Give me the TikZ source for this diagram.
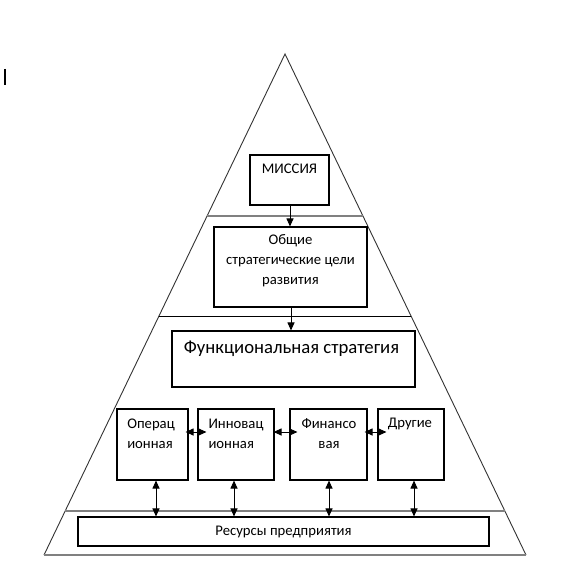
\documentclass[tikz,border=0pt]{standalone}
\usepackage{fontspec}
\setmainfont{Carlito}
\usetikzlibrary{arrows.meta,positioning,calc}

\begin{document}
\begin{tikzpicture}[
  x=1pt,y=-1pt,
  box/.style={draw,line width=1.1pt,inner sep=0pt},
  txt/.style={font=\fontsize{14.7}{20}\selectfont,align=center,inner sep=0pt},
  sep/.style={line width=1.8pt,gray},
  link/.style={line width=1pt,-{Triangle[length=8pt,width=7pt]}},
  both/.style={line width=1pt,{Triangle[length=8pt,width=7pt]}-{Triangle[length=8pt,width=7pt]}}]
  \useasboundingbox (0,0) rectangle (568,572);
  \draw[line width=1.5pt] (5,69)--(5,85);
  \coordinate (top) at (285,54);
  \coordinate (bl) at (44,555);
  \coordinate (br) at (526,555);
  \draw[line width=0.9pt,black!80] (bl)--(top)--(br);
  \draw[line width=2.2pt,gray] (bl)--(br);
  \draw[sep] ($(top)!0.3234!(bl)$)--($(top)!0.3234!(br)$);
  \draw[line width=1pt] ($(top)!0.523!(bl)$)--($(top)!0.523!(br)$);
  \draw[sep] ($(top)!0.912!(bl)$)--($(top)!0.912!(br)$);
  \node[box,minimum width=79,minimum height=50](mission) at(289.5,180){};
  \node[txt](missiontxt) at(289.5,169){МИССИЯ};
  \node[box,minimum width=153,minimum height=80](goals) at(290.5,267){};
  \node[txt](goalstxt) at(290.5,261){Общие\\стратегические цели\\развития};
  \node[box,minimum width=243,minimum height=56](func) at(293.5,359){};
  \node[txt,font=\fontsize{18.7}{22}\selectfont](functxt) at(291.5,349){Функциональная стратегия};
  \node[box,minimum width=71,minimum height=71](oper) at(152.5,444.5){};
  \node[box,minimum width=76,minimum height=71](innov) at(236,444.5){};
  \node[box,minimum width=77,minimum height=71](fin) at(328.5,444.5){};
  \node[box,minimum width=66,minimum height=71](other) at(411,444.5){};
  \node[txt,align=left](opertxt) at(151,434){Операц\\ионная};
  \node[txt,align=left](innovtxt) at(236,434){Инновац\\ионная};
  \node[txt](fintxt) at(329,434){Финансо\\вая};
  \node[txt](othertxt) at(410,424){Другие};
  \node[box,minimum width=411,minimum height=29,txt,draw](res) at(283.5,531.5){Ресурсы предприятия};
  \draw[link]([xshift=0.5]mission.south)--([xshift=0.5]mission.south|-goals.north);
  \draw[link]([xshift=0.5]goals.south)--([xshift=0.5]goals.south|-func.north);
  \draw[both,shorten <=-3pt,shorten >=-9pt]([yshift=12.5]oper.east)--([yshift=12.5]innov.west);
  \draw[both,shorten <=-1pt,shorten >=-8pt]([yshift=12.5]innov.east)--([yshift=12.5]fin.west);
  \draw[both,shorten <=-3pt,shorten >=-9pt]([yshift=12.5]fin.east)--([yshift=12.5]other.west);
  \draw[both]([xshift=3.5]oper.south)--([xshift=3.5]oper.south|-res.north);
  \draw[both]([xshift=-2]innov.south)--([xshift=-2]innov.south|-res.north);
  \draw[both]([xshift=0.5]fin.south)--([xshift=0.5]fin.south|-res.north);
  \draw[both]([xshift=3]other.south)--([xshift=3]other.south|-res.north);
\end{tikzpicture}
\end{document}
